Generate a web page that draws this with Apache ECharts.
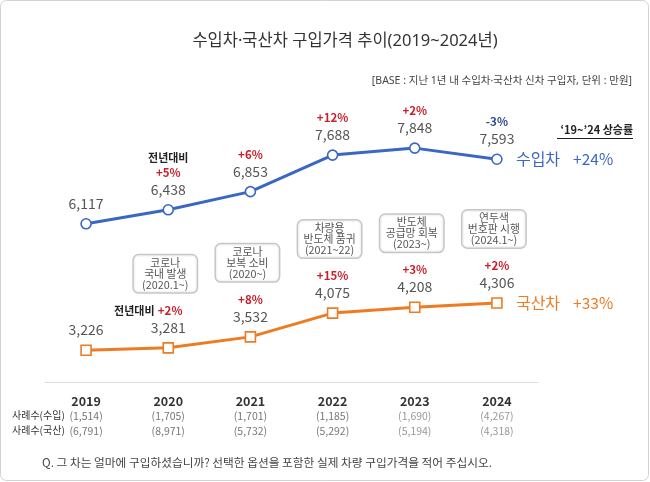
<!DOCTYPE html>
<html>
<head>
<meta charset="utf-8">
<script src="https://cdn.jsdelivr.net/npm/echarts@6/dist/echarts.min.js"></script>
<style>
html,body{margin:0;padding:0;background:#fff;}
#chart{width:650px;height:482px;}
</style>
</head>
<body>
<div id="chart"></div>
<script>
const categories = ['2019', '2020', '2021', '2022', '2023', '2024'];
const importPrice = [6117, 6438, 6853, 7688, 7848, 7593];
const domesticPrice = [3226, 3281, 3532, 4075, 4208, 4306];
const importChange = ['', '+5%', '+6%', '+12%', '+2%', '-3%'];
const domesticChange = ['', '+2%', '+8%', '+15%', '+3%', '+2%'];
const importCount = ['(1,514)', '(1,705)', '(1,701)', '(1,185)', '(1,690)', '(4,267)'];
const domesticCount = ['(6,791)', '(8,971)', '(5,732)', '(5,292)', '(5,194)', '(4,318)'];
const events = ['', '코로나\n국내 발생\n(2020.1~)', '코로나\n보복 소비\n(2020~)', '차량용\n반도체 품귀\n(2021~22)', '반도체\n공급망 회복\n(2023~)', '연두색\n번호판 시행\n(2024.1~)'];
const seriesNames = ['수입차', '국산차'];
const growth = ['+24%', '+33%'];
const titleText = '수입차·국산차 구입가격 추이(2019~2024년)';
const baseText = '[BASE : 지난 1년 내 수입차·국산차 신차 구입자, 단위 : 만원]';
const growthHeading = '\u201819~\u201924 상승률';
const countLabels = ['사례수(수입)', '사례수(국산)'];
const questionText = 'Q. 그 차는 얼마에 구입하셨습니까? 선택한 옵션을 포함한 실제 차량 구입가격을 적어 주십시오.';

const FONT = '"Noto Sans CJK KR", "Noto Sans", sans-serif';
const FONT_L = '"Noto Sans", "Noto Sans CJK KR", sans-serif';
const BLUE = '#3b67c4';
const ORANGE = '#ee7b22';
const RED = '#c8202a';
const NAVY = '#2c4a90';

const chart = echarts.init(document.getElementById('chart'), null, {renderer: 'canvas'});

const labelRich = {
  v: {fontSize: 14, color: '#555', lineHeight: 17, fontFamily: FONT},
  r: {fontSize: 11.5, color: RED, fontWeight: 'bold', lineHeight: 17, fontFamily: FONT},
  n: {fontSize: 11.5, color: NAVY, fontWeight: 'bold', lineHeight: 17, fontFamily: FONT},
  k: {fontSize: 11, color: '#222', fontWeight: 'bold', lineHeight: 12, fontFamily: FONT},
  gap: {width: 40, lineHeight: 17}
};

function makeFormatter(changes, inline) {
  return function (p) {
    const i = p.dataIndex;
    const v = p.value.toLocaleString('en-US');
    const c = changes[i];
    const cs = c ? '{' + (c.charAt(0) === '-' ? 'n' : 'r') + '|' + c + '}' : '';
    let s = '';
    if (i === 1) {
      if (inline) return '{k|전년대비} ' + cs + '{gap| }\n{v|' + v + '}';
      s += '{k|전년대비}\n';
    }
    if (cs) s += cs + '\n';
    return s + '{v|' + v + '}';
  };
}

function endLabel(idx, color) {
  return {
    show: true,
    distance: 19,
    formatter: '{a|' + seriesNames[idx] + '}{g| }{b|' + growth[idx] + '}',
    rich: {
      a: {fontSize: 16, color: color, fontFamily: FONT},
      g: {width: 13},
      b: {fontSize: 15.5, color: color, fontFamily: FONT}
    }
  };
}

function txt(text, x, y, size, color, align, weight, fam) {
  return {
    type: 'text', silent: true,
    style: {
      text: text, x: x, y: y,
      fill: color,
      font: (weight || 'normal') + ' ' + size + 'px ' + (fam || FONT),
      align: align, verticalAlign: 'middle',
      textAlign: align, textVerticalAlign: 'middle'
    }
  };
}

const option = {
  animation: false,
  backgroundColor: '#fff',
  grid: {left: 45, right: 112, top: 54, bottom: 100, containLabel: false},
  xAxis: {
    type: 'category',
    data: categories,
    boundaryGap: true,
    axisLine: {show: true, lineStyle: {color: '#dcdcdc', width: 1}},
    axisTick: {show: false},
    splitLine: {show: false},
    axisLabel: {
      margin: 11,
      interval: 0,
      formatter: function (val, i) {
        const cstyle = i >= 4 ? 'd' : 'c';
        return '{y|' + val + '}\n{' + cstyle + '|' + importCount[i] + '}\n{' + cstyle + '|' + domesticCount[i] + '}';
      },
      rich: {
        y: {fontSize: 12.5, fontWeight: 'bold', color: '#333', lineHeight: 16, fontFamily: FONT},
        c: {fontSize: 10.5, color: '#777', lineHeight: 14.5, fontFamily: FONT},
        d: {fontSize: 10.5, color: '#999', lineHeight: 14.5, fontFamily: FONT}
      }
    }
  },
  yAxis: {
    type: 'value', min: 2500, max: 10000, show: false,
    splitLine: {show: false}
  },
  series: [
    {
      name: seriesNames[0],
      type: 'line',
      data: importPrice,
      symbol: 'circle',
      symbolSize: 10,
      lineStyle: {color: BLUE, width: 3},
      itemStyle: {color: '#fff', borderColor: BLUE, borderWidth: 1.6},
      label: {show: true, position: 'top', distance: 6, formatter: makeFormatter(importChange, false), rich: labelRich},
      endLabel: endLabel(0, BLUE),
      z: 3
    },
    {
      name: seriesNames[1],
      type: 'line',
      data: domesticPrice,
      symbol: 'rect',
      symbolSize: 10,
      lineStyle: {color: ORANGE, width: 3},
      itemStyle: {color: '#fff', borderColor: ORANGE, borderWidth: 1.6},
      label: {show: true, position: 'top', distance: 6, formatter: makeFormatter(domesticChange, true), rich: labelRich},
      endLabel: endLabel(1, ORANGE),
      z: 3
    },
    {
      name: 'events',
      type: 'scatter',
      data: domesticPrice.map(function (v, i) { return events[i] ? v : '-'; }),
      symbolSize: 1,
      itemStyle: {color: 'transparent'},
      silent: true,
      label: {
        show: true,
        position: 'inside',
        offset: [-3, -74],
        formatter: function (p) { return events[p.dataIndex]; },
        fontSize: 10.8,
        lineHeight: 11,
        color: '#2a2a2a',
        fontFamily: FONT,
        align: 'center',
        width: 57,
        backgroundColor: '#fff',
        borderColor: '#b8b8b8',
        borderWidth: 1.5,
        borderRadius: 5,
        padding: [2, 3, 2, 3]
      },
      z: 2
    }
  ],
  graphic: [
    {type: 'rect', silent: true, shape: {x: 0.5, y: 0.5, width: 648, height: 480, r: 6}, style: {fill: 'none', stroke: '#d2d2d2', lineWidth: 1}},
    txt(titleText, 345, 41, 16.5, '#333', 'center', 'normal', FONT_L),
    txt(baseText, 632, 81, 10.5, '#444', 'right', 'normal', FONT_L),
    txt(growthHeading, 633, 130, 11, '#222', 'right', 'bold'),
    {type: 'line', silent: true, shape: {x1: 557, y1: 138.5, x2: 633, y2: 138.5}, style: {stroke: '#222', lineWidth: 1}},
    txt(countLabels[0], 12, 415.5, 10, '#333', 'left'),
    txt(countLabels[1], 12, 430, 10, '#333', 'left'),
    txt(questionText, 42, 462.5, 11.7, '#444', 'left')
  ]
};

chart.setOption(option);
</script>
</body>
</html>
